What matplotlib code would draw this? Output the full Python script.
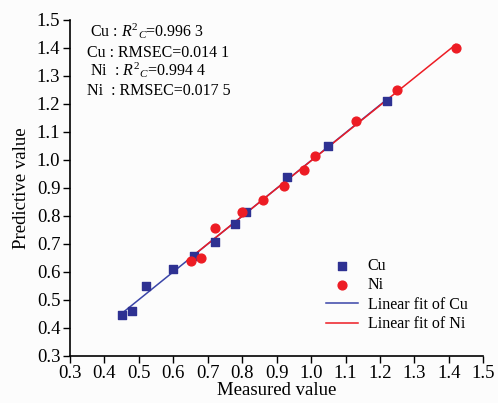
import numpy as np
import matplotlib
matplotlib.use('Agg')
import matplotlib.pyplot as plt

plt.rcParams['font.family'] = ['Liberation Serif', 'DejaVu Serif']
plt.rcParams['mathtext.fontset'] = 'custom'
plt.rcParams['mathtext.rm'] = 'Liberation Serif'
plt.rcParams['mathtext.it'] = 'Liberation Serif:italic'

# measured vs predicted values
cu_measured = [0.45, 0.48, 0.52, 0.60, 0.66, 0.72, 0.78, 0.81, 0.93, 1.05, 1.22]
cu_predicted = [0.445, 0.46, 0.55, 0.61, 0.655, 0.705, 0.77, 0.815, 0.94, 1.05, 1.21]
ni_measured = [0.65, 0.68, 0.72, 0.80, 0.86, 0.92, 0.98, 1.01, 1.13, 1.25, 1.42]
ni_predicted = [0.64, 0.65, 0.755, 0.815, 0.855, 0.905, 0.965, 1.015, 1.14, 1.25, 1.40]

stats_lines = [
    r'Cu : $R^2{}_C$=0.996 3',
    'Cu : RMSEC=0.014 1',
    r'Ni  : $R^2{}_C$=0.994 4',
    'Ni  : RMSEC=0.017 5',
]
stats_x = [0.357, 0.35, 0.357, 0.35]
stats_y = [1.439, 1.368, 1.300, 1.232]

ticks = np.round(np.arange(0.3, 1.51, 0.1), 1)

fig = plt.figure(figsize=(4.98, 4.03), dpi=100, facecolor='#fcfcfc')
ax = fig.add_axes([0.1406, 0.1174, 0.830, 0.833], facecolor='#fcfcfc')

blue = '#2e3192'
red = '#ed1c24'

# linear fits
cu_k, cu_b = np.polyfit(cu_measured, cu_predicted, 1)
ni_k, ni_b = np.polyfit(ni_measured, ni_predicted, 1)
xc = np.array([min(cu_measured), max(cu_measured)])
xn = np.array([min(ni_measured) - 0.01, max(ni_measured)])

ax.scatter(cu_measured, cu_predicted, marker='s', s=30, color=blue, label='Cu', zorder=3)
ax.scatter(ni_measured, ni_predicted, marker='o', s=40, color=red, label='Ni', zorder=3)
ax.plot(xc, cu_k * xc + cu_b, color='#3a45a8', lw=1.1, label='Linear fit of Cu', zorder=2)
ax.plot(xn, ni_k * xn + ni_b, color=red, lw=1.1, label='Linear fit of Ni', zorder=2)

ax.set_xlim(0.3, 1.5)
ax.set_ylim(0.3, 1.5)
ax.set_xticks(ticks)
ax.set_yticks(ticks)
ax.set_xticklabels([f'{t:.1f}' for t in ticks])
ax.set_yticklabels([f'{t:.1f}' for t in ticks])
ax.tick_params(labelsize=13.5, direction='out', length=5, width=1, pad=2)
ax.spines['top'].set_visible(False)
ax.spines['right'].set_visible(False)
ax.spines['left'].set_linewidth(1.2)
ax.spines['bottom'].set_linewidth(1.2)

ax.set_xlabel('Measured value', fontsize=13.5, labelpad=0)
ax.set_ylabel('Predictive value', fontsize=13.5, labelpad=5)

for s, x, y in zip(stats_lines, stats_x, stats_y):
    ax.text(x, y, s, fontsize=11.5, va='baseline', ha='left')

ax.legend(loc='upper left', bbox_to_anchor=(0.60, 0.315), frameon=False, fontsize=11.5,
          handlelength=2.0, handletextpad=0.6, labelspacing=0.22, borderpad=0)

fig.savefig('out.png', dpi=100, facecolor=fig.get_facecolor())
